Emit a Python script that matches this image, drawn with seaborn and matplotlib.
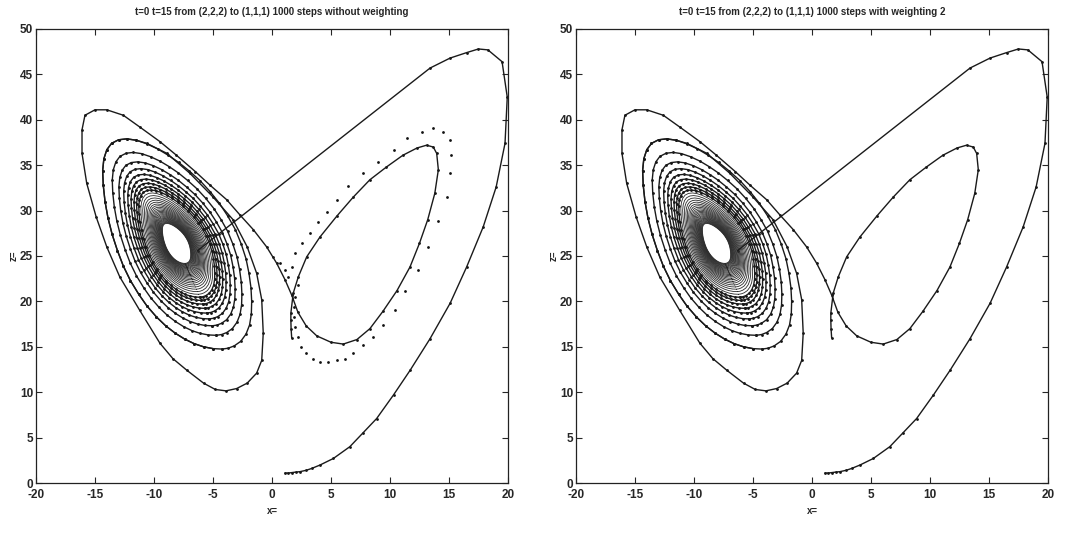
import numpy as np
import pandas as pd
import seaborn as sns
import matplotlib.pyplot as plt

# trajectory start: from (1,1) up to the top right and then the jump into the spiral
start_x = [1.1, 1.4, 1.7, 2.0, 2.37, 2.9, 3.36, 4.07, 5.2, 6.6, 7.7, 8.87, 10.3, 11.7, 13.4,
           15.1, 16.5, 17.9, 19.0, 19.75, 19.94, 19.5, 18.3, 17.5, 16.5, 15.1, 13.4, -6.3]
start_z = [1.1, 1.1, 1.15, 1.2, 1.25, 1.4, 1.6, 1.98, 2.7, 4.0, 5.5, 7.1, 9.7, 12.4, 15.9,
           19.8, 23.8, 28.2, 32.6, 37.4, 42.5, 46.4, 47.7, 47.8, 47.4, 46.8, 45.7, 25.6]

ring_x = [-4.2, -5.0, -5.8, -6.6, -7.4, -8.2, -9.0, -9.8, -10.6, -11.3, -12.0, -12.6,
          -13.1, -13.55, -13.9, -14.15, -14.3, -14.35, -14.25, -14.0, -13.6, -13.0, -12.3,
          -11.5, -10.6, -9.7, -8.8, -7.9, -7.0, -6.1, -5.25, -4.45, -3.75, -3.1, -2.6,
          -2.2, -1.95, -1.78, -1.72, -1.75, -1.9, -2.2, -2.65, -3.2, -3.7, -4.2]
ring_z = [14.75, 14.8, 15.0, 15.35, 15.85, 16.5, 17.3, 18.3, 19.5, 20.8, 22.3, 23.9,
          25.6, 27.4, 29.2, 31.0, 32.8, 34.4, 35.7, 36.7, 37.4, 37.8, 37.9,
          37.75, 37.35, 36.8, 36.1, 35.3, 34.35, 33.3, 32.1, 30.8, 29.4, 27.9, 26.3,
          24.7, 23.1, 21.5, 20.0, 18.6, 17.4, 16.4, 15.6, 15.1, 14.85, 14.75]
ring_center = (-8.1, 26.4)
ring_scales = [1.0, 0.87, 0.78, 0.715, 0.66, 0.615, 0.575, 0.54, 0.51, 0.482, 0.457,
               0.434, 0.413, 0.394, 0.376, 0.36, 0.345, 0.331, 0.318, 0.306, 0.295,
               0.284, 0.274, 0.264, 0.255, 0.246, 0.238, 0.23, 0.222, 0.215, 0.208,
               0.201, 0.195, 0.19]

# last two turns of the spiral, the right wing and the end point
outer_x = [-5.0, -5.8, -6.6, -7.4, -8.2, -9.0, -9.8, -10.6, -11.3, -12.0, -12.6,
           -13.1, -13.55, -13.9, -14.15, -14.3, -14.35, -14.25, -14.0, -13.6, -13.0, -12.3,
           -11.5, -10.6, -8.9, -6.95, -5.0, -3.3, -2.1, -1.3, -0.87, -0.74, -0.87, -1.3, -2.1,
           -3.0, -3.9, -4.8, -5.8, -7.2, -8.4, -9.5, -11.2, -12.9, -14.0, -14.9, -15.7, -16.1,
           -16.1, -15.85, -15.0, -14.0, -12.6, -11.2, -9.5, -8.1, -6.5, -5.25, -3.84, -2.7,
           -1.58, -0.45, 0.4, 1.1, 1.67, 2.2, 2.9, 3.8, 5.0, 6.04, 7.2, 8.3, 9.4, 10.6,
           11.7, 12.5, 13.2, 13.8, 14.1, 13.96, 13.67, 13.1, 12.3, 11.1, 9.7, 8.3, 6.9,
           5.5, 4.07, 2.94, 2.23, 1.8, 1.6, 1.6, 1.62, 1.67]
outer_z = [14.8, 15.0, 15.35, 15.85, 16.5, 17.3, 18.3, 19.5, 20.8, 22.3, 23.9,
           25.6, 27.4, 29.2, 31.0, 32.8, 34.4, 35.7, 36.7, 37.4, 37.8, 37.9,
           37.75, 37.4, 36.3, 34.1, 31.5, 29.0, 26.0, 23.1, 20.2, 16.5, 13.5, 12.1, 11.0,
           10.4, 10.15, 10.3, 11.0, 12.4, 13.7, 15.4, 19.0, 22.7, 26.0, 29.3, 33.0, 36.3,
           38.9, 40.5, 41.1, 41.1, 40.5, 39.2, 37.6, 36.1, 34.3, 32.8, 31.2, 29.5,
           27.9, 26.0, 24.2, 22.4, 20.7, 18.8, 17.3, 16.2, 15.5, 15.3, 15.8, 17.0, 18.9, 21.2,
           23.8, 26.4, 29.0, 31.9, 34.5, 36.3, 37.0, 37.2, 36.9, 36.1, 34.8, 33.4, 31.5,
           29.4, 27.1, 24.9, 22.7, 20.9, 18.7, 17.9, 17.0, 16.0]

# left panel only: computed points that drift off the right wing
drift_x = [0.1, 0.68, 1.1, 1.4, 1.67, 1.95, 2.52, 3.2, 3.92, 4.63, 5.48, 6.47, 7.74, 9.0,
           10.3, 11.47, 12.69, 13.67, 14.5, 15.08, 15.2, 15.08, 14.8, 14.1, 13.25, 12.4,
           11.27, 10.4, 9.43, 8.58, 7.74, 6.9, 6.2, 5.48, 4.77, 4.07, 3.45, 2.88, 2.46,
           2.18, 1.95, 1.86, 1.86, 1.95, 2.23]
drift_z = [24.9, 24.2, 23.5, 22.7, 23.8, 25.3, 26.4, 27.5, 28.7, 29.9, 31.2, 32.7, 34.1, 35.4,
           36.7, 37.96, 38.7, 39.06, 38.7, 37.8, 36.1, 34.1, 31.5, 28.8, 26.0, 23.5,
           21.1, 19.05, 17.4, 16.1, 15.2, 14.3, 13.7, 13.5, 13.36, 13.36, 13.7, 14.3, 15.0,
           16.1, 17.2, 18.3, 19.4, 20.5, 21.8]

titles = ['t=0 t=15 from (2,2,2) to (1,1,1) 1000 steps without weighting',
          't=0 t=15 from (2,2,2) to (1,1,1) 1000 steps with weighting 2']

# build one table of path pieces
parts = [pd.DataFrame({'x': start_x, 'z': start_z, 'seg': 'start', 'inner': False})]
cx, cz = ring_center
rx, rz = np.array(ring_x), np.array(ring_z)
for i, s in enumerate(ring_scales):
    parts.append(pd.DataFrame({'x': cx + s * (rx - cx), 'z': cz + s * (rz - cz),
                               'seg': 'ring%02d' % i, 'inner': s < 0.5}))
parts.append(pd.DataFrame({'x': outer_x, 'z': outer_z, 'seg': 'outer', 'inner': False}))
path = pd.concat(parts, ignore_index=True)
main = path[~path['inner']]
inner = path[path['inner']]

drift = pd.DataFrame({'x': drift_x, 'z': drift_z})

sns.set_style('ticks')
plt.rcParams['font.family'] = ['Liberation Sans', 'DejaVu Sans']
plt.rcParams['axes.unicode_minus'] = False

fig = plt.figure(figsize=(10.81, 5.33), dpi=100)
ax1 = fig.add_axes([0.0333, 0.0938, 0.4366, 0.8518])
ax2 = fig.add_axes([0.5328, 0.0938, 0.4366, 0.8518])

for k, ax in enumerate([ax1, ax2]):
    sns.lineplot(data=inner, x='x', y='z', units='seg', estimator=None, sort=False,
                 color='#2a2a2a', lw=0.6, ax=ax, legend=False)
    sns.lineplot(data=main, x='x', y='z', units='seg', estimator=None, sort=False,
                 color='#1a1a1a', lw=1.0, ax=ax, legend=False)
    dots = main if k == 1 else pd.concat([main, drift])
    sns.scatterplot(data=dots, x='x', y='z', s=4, color='#111111', linewidth=0, ax=ax, legend=False)
    ax.set_xlim(-20, 20)
    ax.set_ylim(0, 50)
    ax.set_xticks(range(-20, 21, 5))
    ax.set_yticks(range(0, 51, 5))
    ax.tick_params(direction='in', length=4, width=0.8, top=True, right=True, labelsize=8.5)
    ax.tick_params(axis='x', pad=4)
    ax.tick_params(axis='y', pad=2)
    for lab in ax.get_xticklabels() + ax.get_yticklabels():
        lab.set_fontweight('bold')
    for sp in ax.spines.values():
        sp.set_visible(True)
        sp.set_linewidth(0.9)
        sp.set_color('#222222')
    ax.set_title(titles[k], fontsize=7, fontweight='bold', pad=10)
    ax.set_xlabel('x=', fontsize=7, fontweight='bold', labelpad=4)
    ax.set_ylabel('z=', fontsize=7, fontweight='bold', labelpad=1)

fig.savefig('out.png', dpi=100)
